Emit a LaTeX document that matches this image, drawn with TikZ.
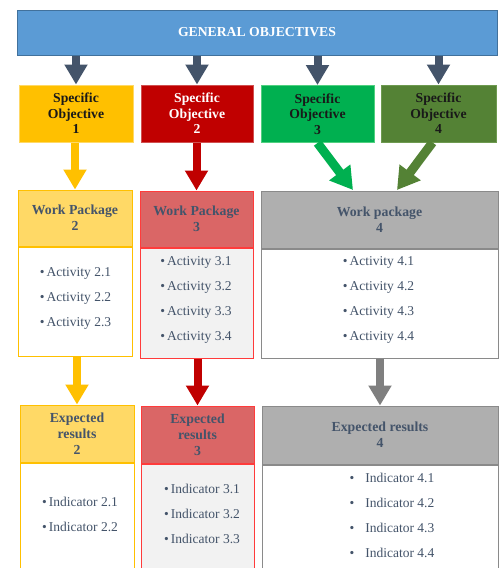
\documentclass[tikz,border=0pt]{standalone}
\usepackage{fontspec}
\setmainfont{Liberation Serif}
\usetikzlibrary{arrows.meta}
\definecolor{genfill}{HTML}{5B9BD5}
\definecolor{genline}{HTML}{41719C}
\definecolor{arrdark}{HTML}{44546A}
\definecolor{txtdark}{HTML}{44546A}
\definecolor{sofill1}{HTML}{FFC000}
\definecolor{soline1}{HTML}{FFD966}
\definecolor{sofill2}{HTML}{C00000}
\definecolor{soline2}{HTML}{D05050}
\definecolor{sofill3}{HTML}{00B050}
\definecolor{soline3}{HTML}{50D080}
\definecolor{sofill4}{HTML}{548235}
\definecolor{soline4}{HTML}{6E9A50}
\definecolor{hfill2}{HTML}{FFD966}
\definecolor{hline2}{HTML}{FFC000}
\definecolor{hfill3}{HTML}{DA6666}
\definecolor{hline3}{HTML}{FF3B3B}
\definecolor{bfill3}{HTML}{F2F2F2}
\definecolor{hfill4}{HTML}{AFAFAF}
\definecolor{hline4}{HTML}{8A8A8A}
\definecolor{arrgray}{HTML}{7F7F7F}
\tikzset{
  blockarrow/.style={draw=#1, line width=8pt,
    -{Triangle[width=22pt,length=20pt,fill=#1]}},
  diagarrow/.style={draw=#1, line width=9pt,
    -{Triangle[width=25pt,length=22pt,fill=#1]}},
  sobox/.style={draw, line width=1pt, inner sep=0pt, align=center,
    font=\fontsize{13.7}{15.5}\selectfont\bfseries,
    minimum height=57pt},
  hdrbox/.style={draw, line width=1pt, inner sep=0pt, align=center,
    text=txtdark, font=\fontsize{13.8}{16}\selectfont\bfseries},
  bodybox/.style={draw, line width=1pt, inner sep=0pt, anchor=north},
  items/.style={align=center, text=txtdark, inner sep=0pt,
    font=\fontsize{13.5}{25}\selectfont},
}
\begin{document}
\begin{tikzpicture}[x=1pt,y=-1pt]
\useasboundingbox (0,0) rectangle (500,568);
\clip (0,0) rectangle (500,568);
\fill[white] (0,0) rectangle (500,568);

% general objectives
\node[draw=genline, fill=genfill, line width=1pt, minimum width=480pt,
  minimum height=45pt, text=white, font=\fontsize{13.7}{16}\selectfont\bfseries]
  (gen) at (257,32.5) {GENERAL OBJECTIVES};

% specific objectives
\node[sobox, fill=sofill1, draw=soline1, minimum width=114pt, text=black!90]
  (so1) at (76,113.5) {Specific\\Objective\\1};
\node[sobox, fill=sofill2, draw=soline2, minimum width=112pt, text=white]
  (so2) at (197,113.5) {Specific\\Objective\\2};
\node[sobox, fill=sofill3, draw=soline3, minimum width=113pt, text=black!90]
  (so3) at (317.5,114) {Specific\\Objective\\3};
\node[sobox, fill=sofill4, draw=soline4, minimum width=115pt, text=black!90]
  (so4) at (438.5,113.5) {Specific\\Objective\\4};

% work packages
\node[hdrbox, fill=hfill2, draw=hline2, minimum width=114pt, minimum height=56pt]
  (wp2h) at (75,218) {Work Package\\2};
\node[bodybox, fill=white, draw=hline2, minimum width=114pt, minimum height=109pt]
  (wp2b) at (wp2h.south) {};
\node[hdrbox, fill=hfill3, draw=hline3, minimum width=113pt, minimum height=56pt]
  (wp3h) at (196.5,219) {Work Package\\3};
\node[bodybox, fill=bfill3, draw=hline3, minimum width=113pt, minimum height=110pt]
  (wp3b) at (wp3h.south) {};
\node[hdrbox, fill=hfill4, draw=hline4, minimum width=237pt, minimum height=57pt]
  (wp4h) at (379.5,219.5) {Work package\\4};
\node[bodybox, fill=white, draw=hline4, minimum width=237pt, minimum height=109pt]
  (wp4b) at (wp4h.south) {};

\node[items] (wp2t) at (75.5,298) {•\,Activity 2.1\\•\,Activity 2.2\\•\,Activity 2.3};
\node[items] (wp3t) at (196,299.5) {•\,Activity 3.1\\•\,Activity 3.2\\•\,Activity 3.3\\•\,Activity 3.4};
\node[items] (wp4t) at (378.5,300) {•\,Activity 4.1\\•\,Activity 4.2\\•\,Activity 4.3\\•\,Activity 4.4};

% expected results
\node[hdrbox, fill=hfill2, draw=hline2, minimum width=114pt, minimum height=57pt]
  (er2h) at (77,433.5) {Expected\\results\\2};
\node[bodybox, fill=white, draw=hline2, minimum width=114pt, minimum height=140pt]
  (er2b) at (er2h.south) {};
\node[hdrbox, fill=hfill3, draw=hline3, minimum width=113pt, minimum height=57pt]
  (er3h) at (197.5,434.5) {Expected\\results\\3};
\node[bodybox, fill=bfill3, draw=hline3, minimum width=113pt, minimum height=140pt]
  (er3b) at (er3h.south) {};
\node[hdrbox, fill=hfill4, draw=hline4, minimum width=236pt, minimum height=58pt]
  (er4h) at (380,435) {Expected results\\4};
\node[bodybox, fill=white, draw=hline4, minimum width=236pt, minimum height=140pt]
  (er4b) at (er4h.south) {};

\node[items] (er2t) at (80,514) {•\,Indicator 2.1\\•\,Indicator 2.2};
\node[items] (er3t) at (202,514) {•\,Indicator 3.1\\•\,Indicator 3.2\\•\,Indicator 3.3};
\node[items] (er4t) at (392,515.5) {•\hspace{11pt}Indicator 4.1\\•\hspace{11pt}Indicator 4.2\\•\hspace{11pt}Indicator 4.3\\•\hspace{11pt}Indicator 4.4};

% arrows: general -> specific
\draw[blockarrow=arrdark] (gen.south -| so1.north) -- (so1.north);
\draw[blockarrow=arrdark] (gen.south -| so2.north) -- (so2.north);
\draw[blockarrow=arrdark] (gen.south -| so3.north) -- (so3.north);
\draw[blockarrow=arrdark] (gen.south -| so4.north) -- (so4.north);

% arrows: specific -> work packages
\draw[blockarrow=sofill1] (so1.south -| wp2h.north) -- (wp2h.north);
\draw[blockarrow=sofill2] (so2.south -| wp3h.north) -- (wp3h.north);
\coordinate (t3) at (353,190);
\coordinate (t4) at (397,190);
\draw[diagarrow=sofill3] (so3.south) -- (t3);
\draw[diagarrow=sofill4] ([xshift=-6pt]so4.south) -- (t4);

% arrows: work packages -> expected results
\draw[blockarrow=sofill1] (wp2b.south -| er2h.north) -- (er2h.north);
\draw[blockarrow=sofill2] (wp3b.south -| er3h.north) -- (er3h.north);
\draw[blockarrow=arrgray] (wp4b.south -| er4h.north) -- (er4h.north);
\end{tikzpicture}
\end{document}
